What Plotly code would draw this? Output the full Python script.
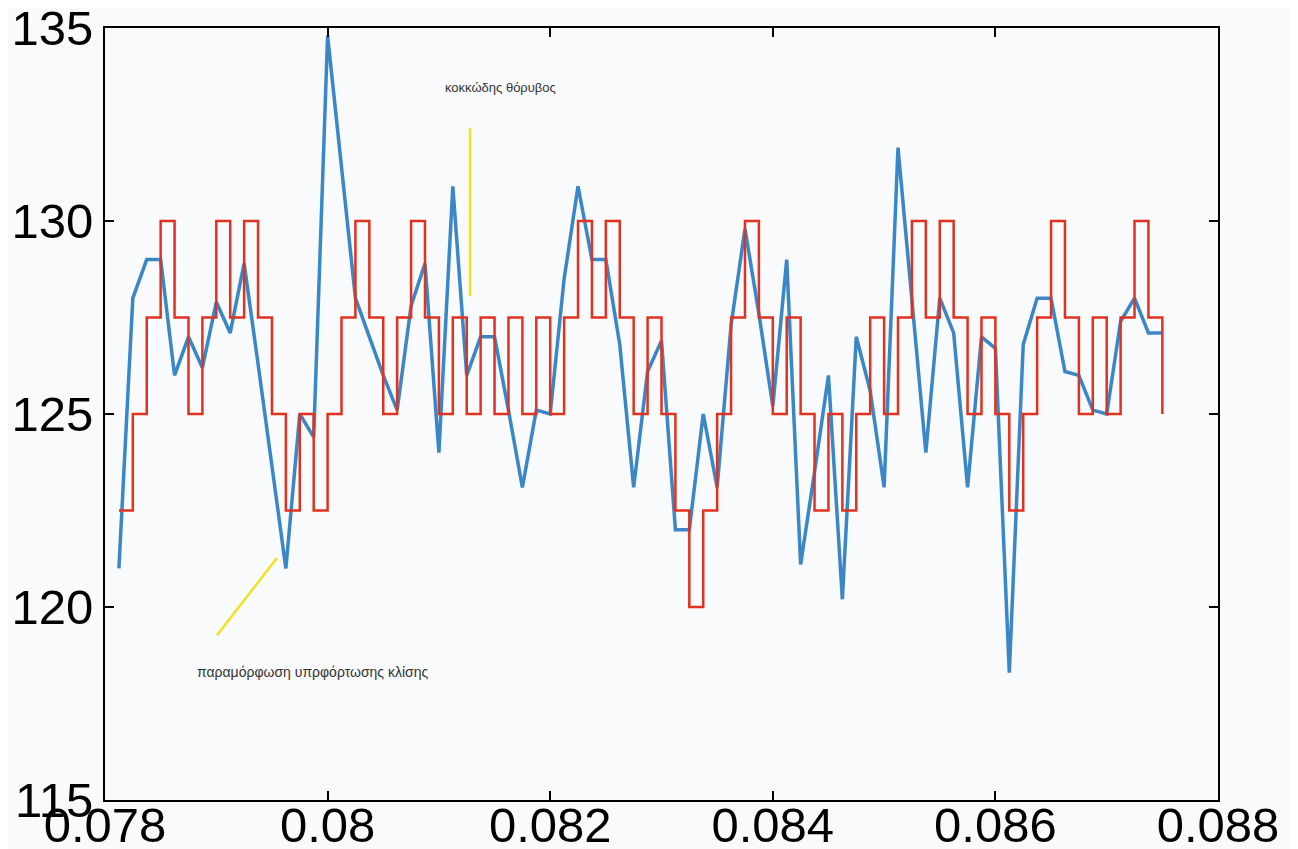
import plotly.graph_objects as go

# Sample times (8 kHz sampling, samples 625..700)
fs = 8000
sample_idx = list(range(625, 701))
t = [n / fs for n in sample_idx]

# Analogue (original) signal
signal = [121.0, 128.0, 129.0, 129.0, 126.0, 127.0, 126.2, 127.9, 127.1, 128.9,
          126.3, 123.6, 121.0, 125.0, 124.4, 134.8, 131.3, 128.0, 127.0, 126.0,
          125.1, 127.8, 128.9, 124.0, 130.9, 126.0, 127.0, 127.0, 125.1, 123.1,
          125.1, 125.0, 128.5, 130.9, 129.0, 129.0, 126.8, 123.1, 126.1, 126.9,
          122.0, 122.0, 125.0, 123.1, 127.3, 129.8, 127.6, 125.2, 129.0, 121.1,
          123.5, 126.0, 120.2, 127.0, 125.6, 123.1, 131.9, 127.9, 124.0, 128.0,
          127.1, 123.1, 127.0, 126.7, 118.3, 126.8, 128.0, 128.0, 126.1, 126.0,
          125.1, 125.0, 127.4, 128.0, 127.1, 127.1]

# Delta-modulated staircase approximation
staircase = [122.5, 125, 127.5, 130, 127.5, 125, 127.5, 130, 127.5, 130,
             127.5, 125, 122.5, 125, 122.5, 125, 127.5, 130, 127.5, 125,
             127.5, 130, 127.5, 125, 127.5, 125, 127.5, 125, 127.5, 125,
             127.5, 125, 127.5, 130, 127.5, 130, 127.5, 125, 127.5, 125,
             122.5, 120, 122.5, 125, 127.5, 130, 127.5, 125, 127.5, 125,
             122.5, 125, 122.5, 125, 127.5, 125, 127.5, 130, 127.5, 130,
             127.5, 125, 127.5, 125, 122.5, 125, 127.5, 130, 127.5, 125,
             127.5, 125, 127.5, 130, 127.5, 125]

x_tickvals = [0.078, 0.080, 0.082, 0.084, 0.086, 0.088]
x_ticktext = ["0.078", "0.08", "0.082", "0.084", "0.086", "0.088"]
y_tickvals = [115, 120, 125, 130, 135]
y_ticktext = ["115", "120", "125", "130", "135"]

label_noise = "κοκκώδης θόρυβος"
label_overload = "παραμόρφωση υπρφόρτωσης κλίσης"

fig = go.Figure()
fig.add_trace(go.Scatter(x=t, y=signal, mode="lines",
                         line=dict(color="#3b86c6", width=3.5),
                         showlegend=False, hoverinfo="skip"))
fig.add_trace(go.Scatter(x=t, y=staircase, mode="lines", line_shape="hv",
                         line=dict(color="#e0321f", width=2.5),
                         showlegend=False, hoverinfo="skip"))

# yellow pointer lines
fig.add_shape(type="line", xref="x", yref="y", x0=0.08128, x1=0.08128, y0=132.4, y1=128.05,
              line=dict(color="#f2e21c", width=2.5))
fig.add_shape(type="line", xref="x", yref="y", x0=0.079006, x1=0.079545, y0=119.27, y1=121.27,
              line=dict(color="#f2e21c", width=2.5))

fig.add_annotation(x=0.08155, y=133.47, xref="x", yref="y", text=label_noise, showarrow=False,
                   font=dict(family="Liberation Sans, Arial", size=13, color="#333333"))
fig.add_annotation(x=0.07987, y=118.32, xref="x", yref="y", text=label_overload, showarrow=False,
                   font=dict(family="Liberation Sans, Arial", size=14, color="#333333"))

axis_common = dict(showline=True, linecolor="black", linewidth=2, mirror="ticks",
                   ticks="inside", ticklen=9, tickwidth=2, tickcolor="black",
                   showgrid=False, zeroline=False, automargin=False,
                   ticklabeloverflow="allow",
                   tickfont=dict(family="Liberation Sans, Arial", size=49, color="black"))

# page body adds an 8px offset, so the figure is sized to the remaining viewport
fig.update_layout(
    width=1290, height=841,
    margin=dict(l=97, r=80, t=20, b=49),
    paper_bgcolor="#f8fafb", plot_bgcolor="#f8fafb",
    xaxis=dict(range=[0.078, 0.088], tickvals=x_tickvals, ticktext=x_ticktext,
               ticklabelstandoff=-19, **axis_common),
    yaxis=dict(range=[115, 135], tickvals=y_tickvals, ticktext=y_ticktext,
               ticklabelstandoff=0, **axis_common),
)

fig.write_html("out.html")
